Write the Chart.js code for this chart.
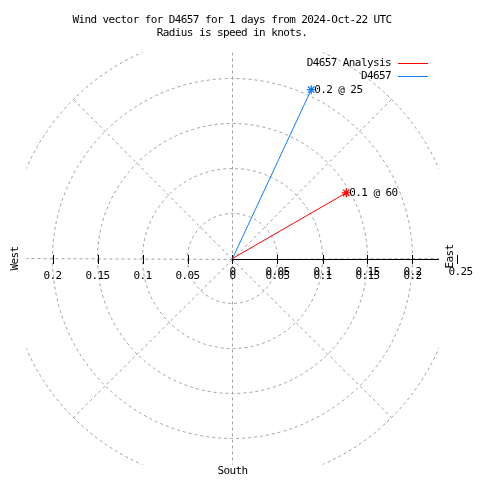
<!DOCTYPE html>
<html>
<head>
<meta charset="utf-8">
<script src="https://cdn.jsdelivr.net/npm/chart.js@4.4.1/dist/chart.umd.min.js"></script>
<style>
html, body { margin: 0; padding: 0; background: #fff; }
canvas { display: block; }
</style>
</head>
<body>
<canvas id="viento" width="480" height="480"></canvas>
<script>
// datos del grafico
const series = ['D4657 Analysis', 'D4657'];
const speeds = [0.146, 0.207];          // nudos
const directions = [60, 25];            // grados desde el norte
const pointLabels = ['0.1 @ 60', '0.2 @ 25'];
const colors = ['#ff0000', '#0a7dff'];

// rejilla polar y marcas
const rings = [0.05, 0.1, 0.15, 0.2, 0.25];
const spokes = [0, 45, 90, 135, 180, 225, 270, 315];
const westTicks = [0.05, 0.1, 0.15, 0.2];
const westTickLabels = ['0.05', '0.1', '0.15', '0.2'];
const eastTicks = [0, 0.05, 0.1, 0.15, 0.2, 0.25];
const eastTickLabels = ['0', '0.05', '0.1', '0.15', '0.2', '0.25'];

const titleLines = ['Wind vector for D4657 for 1 days from 2024-Oct-22 UTC', 'Radius is speed in knots.'];
const plotRange = 0.229;
const FONT = '11px "DejaVu Sans Mono", "Liberation Mono", monospace';

const toXY = (s, d) => ({ x: s * Math.sin(d * Math.PI / 180), y: s * Math.cos(d * Math.PI / 180) });

const datasets = series.map((name, i) => ({
    label: name,
    data: [{ x: 0, y: 0 }, toXY(speeds[i], directions[i])],
    showLine: true,
    borderColor: colors[i],
    backgroundColor: colors[i],
    borderWidth: 1,
    pointStyle: 'star',
    pointRadius: [0, 4.5],
    pointBorderWidth: 1.3,
    clip: false
}));

const px = v => Math.round(v) + 0.5;

function setFont(ctx) {
    ctx.font = FONT;
    if ('letterSpacing' in ctx) ctx.letterSpacing = '-0.6px';
}

const polarGrid = {
    id: 'polarGrid',
    beforeDatasetsDraw(chart) {
        const { ctx, scales: { x, y } } = chart;
        const cx = x.getPixelForValue(0), cy = y.getPixelForValue(0);
        const k = x.getPixelForValue(1) - cx;
        const left = x.getPixelForValue(-plotRange), right = x.getPixelForValue(plotRange);
        const top = y.getPixelForValue(plotRange), bottom = y.getPixelForValue(-plotRange);

        ctx.save();
        ctx.beginPath();
        ctx.rect(left, top, right - left, bottom - top);
        ctx.clip();
        ctx.strokeStyle = '#a0a0a0';
        ctx.lineWidth = 1;
        ctx.setLineDash([3, 3]);
        rings.forEach(r => {
            ctx.beginPath();
            ctx.arc(cx, cy, r * k, 0, Math.PI * 2);
            ctx.stroke();
        });
        const rMax = rings[rings.length - 1];
        spokes.forEach(a => {
            const p = toXY(rMax, a);
            ctx.beginPath();
            ctx.moveTo(px(cx), px(cy));
            ctx.lineTo(x.getPixelForValue(p.x), y.getPixelForValue(p.y));
            ctx.stroke();
        });
        ctx.restore();

        // eje este
        ctx.save();
        ctx.strokeStyle = '#000';
        ctx.lineWidth = 1;
        ctx.beginPath();
        ctx.moveTo(px(cx), px(cy));
        ctx.lineTo(Math.round(right), px(cy));
        westTicks.forEach(t => {
            const tx = px(x.getPixelForValue(-t));
            ctx.moveTo(tx, Math.round(cy) - 4);
            ctx.lineTo(tx, Math.round(cy) + 5);
        });
        eastTicks.forEach(t => {
            const tx = px(x.getPixelForValue(t));
            ctx.moveTo(tx, Math.round(cy) - 4);
            ctx.lineTo(tx, Math.round(cy) + 5);
        });
        ctx.stroke();

        ctx.fillStyle = '#000';
        setFont(ctx);
        ctx.textAlign = 'center';
        ctx.textBaseline = 'middle';
        westTicks.forEach((t, i) => ctx.fillText(westTickLabels[i], x.getPixelForValue(-t), cy + 18));
        eastTicks.forEach((t, i) => ctx.fillText(eastTickLabels[i], x.getPixelForValue(t) + (i === 5 ? 3 : 0), cy + 14));
        eastTicks.slice(0, 5).forEach((t, i) => ctx.fillText(eastTickLabels[i], x.getPixelForValue(t), cy + 18));
        ctx.restore();
    },
    afterDatasetsDraw(chart) {
        const { ctx, scales: { x, y } } = chart;
        const cx = x.getPixelForValue(0), cy = y.getPixelForValue(0);
        ctx.save();
        ctx.fillStyle = '#000';
        setFont(ctx);

        // etiquetas de los puntos
        ctx.textAlign = 'left';
        ctx.textBaseline = 'middle';
        series.forEach((s, i) => {
            const p = toXY(speeds[i], directions[i]);
            ctx.fillText(pointLabels[i], x.getPixelForValue(p.x) + 3, y.getPixelForValue(p.y));
        });

        // titulo
        ctx.textAlign = 'center';
        titleLines.forEach((t, i) => ctx.fillText(t, 232, 20 + i * 13));

        // puntos cardinales
        ctx.fillText('South', cx, 471);
        [['West', 15, cy], ['East', 450, cy - 2]].forEach(([t, lx, ly]) => {
            ctx.save();
            ctx.translate(lx, ly);
            ctx.rotate(-Math.PI / 2);
            ctx.fillText(t, 0, 0);
            ctx.restore();
        });

        // leyenda
        ctx.textAlign = 'right';
        chart.data.datasets.forEach((ds, i) => {
            const ly = 63 + i * 13;
            ctx.fillStyle = '#000';
            ctx.fillText(ds.label, 391, ly);
            ctx.strokeStyle = ds.borderColor;
            ctx.lineWidth = 1;
            ctx.beginPath();
            ctx.moveTo(398, ly + 0.5);
            ctx.lineTo(428, ly + 0.5);
            ctx.stroke();
        });
        ctx.restore();
    }
};

const ctxViento = document.getElementById('viento').getContext('2d');
new Chart(ctxViento, {
    type: 'scatter',
    data: { datasets: datasets },
    options: {
        responsive: false,
        animation: false,
        devicePixelRatio: 1,
        layout: { padding: 0, autoPadding: false },
        plugins: { legend: { display: false }, title: { display: false }, tooltip: { enabled: false } },
        scales: {
            x: { type: 'linear', display: false, min: -232.5 / 900, max: 247.5 / 900 },
            y: { type: 'linear', display: false, min: -221.5 / 900, max: 258.5 / 900 }
        }
    },
    plugins: [polarGrid]
});
</script>
</body>
</html>
